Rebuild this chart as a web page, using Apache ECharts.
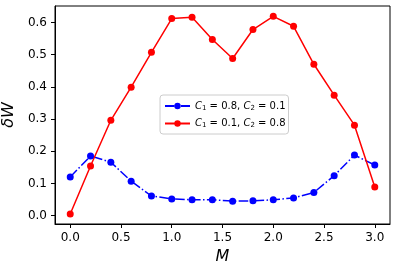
<!DOCTYPE html>
<html><head><meta charset="utf-8">
<script src="https://cdn.jsdelivr.net/npm/echarts@6/dist/echarts.min.js"></script>
<style>html,body{margin:0;padding:0;background:#fff}#c{width:396px;height:271px}</style>
</head><body><div id="c"></div>
<script>
var mValues = [0.0,0.2,0.4,0.6,0.8,1.0,1.2,1.4,1.6,1.8,2.0,2.2,2.4,2.6,2.8,3.0];
var blueValues = [0.120,0.185,0.166,0.107,0.061,0.052,0.049,0.049,0.045,0.046,0.049,0.055,0.072,0.124,0.188,0.157];
var redValues = [0.005,0.154,0.296,0.399,0.507,0.612,0.616,0.547,0.488,0.578,0.619,0.588,0.470,0.374,0.281,0.089];
var xTicks = [0.0,0.5,1.0,1.5,2.0,2.5,3.0];
var yTicks = [0.0,0.1,0.2,0.3,0.4,0.5,0.6];
var blueName = 'C1 = 0.8, C2 = 0.1';
var redName = 'C1 = 0.1, C2 = 0.8';

function pairs(xs, ys){ return xs.map(function(x,i){return [x, ys[i]];}); }
var chart = echarts.init(document.getElementById('c'), null, {renderer:'canvas'});
var font = 'DejaVu Sans';
chart.setOption({
  animation:false,
  grid:{left:55, top:6, width:335, height:218, containLabel:false, outerBoundsMode:'none',
    show:true, borderColor:'#000', borderWidth:1, backgroundColor:'transparent'},
  xAxis:{type:'value', min:-0.15, max:3.15,
    name:'M', nameLocation:'middle', nameGap:24,
    nameTextStyle:{fontFamily:font, fontSize:16, fontStyle:'italic', color:'#000'},
    axisLine:{show:true, onZero:false, lineStyle:{color:'#000'}},
    axisTick:{show:true, customValues:xTicks, length:4, lineStyle:{color:'#000'}},
    axisLabel:{customValues:xTicks, fontFamily:font, fontSize:12, color:'#000', margin:8,
      formatter:function(v){return v.toFixed(1);}},
    splitLine:{show:false}},
  yAxis:{type:'value', min:-0.026, max:0.651,
    name:'δW', nameLocation:'middle', nameGap:33, nameRotate:90,
    nameTextStyle:{fontFamily:font, fontSize:16, fontStyle:'italic', color:'#000'},
    axisLine:{show:true, onZero:false, lineStyle:{color:'#000'}},
    axisTick:{show:true, customValues:yTicks, length:4, lineStyle:{color:'#000'}},
    axisLabel:{customValues:yTicks, fontFamily:font, fontSize:12, color:'#000', margin:8,
      formatter:function(v){return v.toFixed(1);}},
    splitLine:{show:false}},
  legend:{left:160, top:95, orient:'vertical', itemGap:7, itemWidth:25, itemHeight:8,
    backgroundColor:'#fff', borderColor:'#ccc', borderWidth:1, borderRadius:3, padding:[6,3,5,4],
    data:[blueName, redName],
    formatter:function(n){
      var p = n.split(', ');
      function part(s){ var c = s.split(' = '); return '{i|C}{s|'+c[0].slice(1)+'}{t| = '+c[1]+'}'; }
      return part(p[0])+'{t|, }'+part(p[1]);
    },
    textStyle:{fontFamily:font, fontSize:10, color:'#000',
      rich:{i:{fontFamily:font, fontSize:10, fontStyle:'italic'}, s:{fontFamily:font, fontSize:7, verticalAlign:'bottom', padding:[4,0,0,0]}, t:{fontFamily:font, fontSize:10}}}
  },
  series:[
    {name:blueName, type:'line', data:pairs(mValues, blueValues), symbol:'circle', symbolSize:7,
      itemStyle:{color:'#0000ff'}, lineStyle:{color:'#0000ff', width:1.5, type:[9.6,2.4,1.5,2.4]}},
    {name:redName, type:'line', data:pairs(mValues, redValues), symbol:'circle', symbolSize:7,
      itemStyle:{color:'#ff0000'}, lineStyle:{color:'#ff0000', width:1.5, type:'solid'}}
  ]
});
</script></body></html>
